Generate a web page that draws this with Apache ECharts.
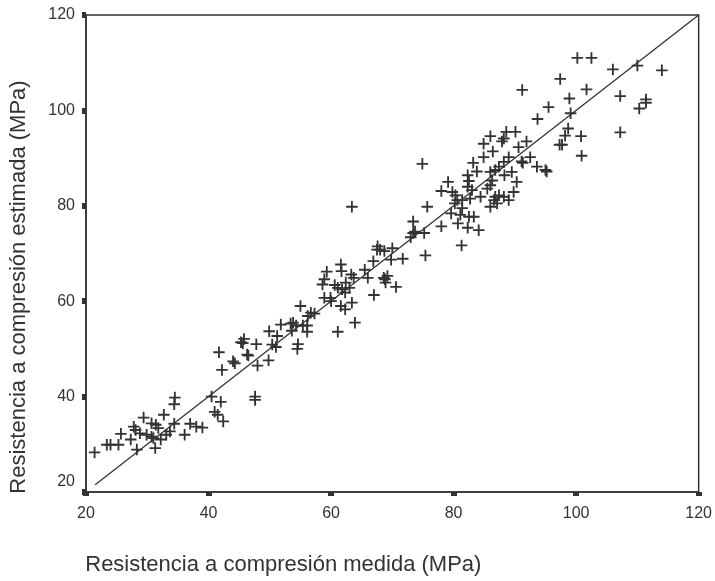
<!DOCTYPE html>
<html>
<head>
<meta charset="utf-8">
<script src="https://cdn.jsdelivr.net/npm/echarts@6/dist/echarts.min.js"></script>
<style>
html,body{margin:0;padding:0;background:#fff;}
#chart{width:715px;height:581px;}
</style>
</head>
<body>
<div id="chart"></div>
<script>
// Measured compressive strength (MPa) - x values
const measured = [
21.4,23.4,24.0,25.3,25.7,27.3,27.8,28.1,28.3,28.8,29.4,29.9,30.7,30.7,31.4,31.0,31.3,31.8,32.2,32.7,
33.1,33.7,34.4,34.5,34.4,36.1,37.0,38.0,39.0,40.5,41.0,42.0,41.5,42.4,47.6,47.6,41.7,42.2,44.0,44.3,
45.3,45.8,45.6,46.3,46.5,47.8,48.0,49.8,49.9,50.4,51.0,51.2,51.8,53.4,53.8,54.3,55.4,53.6,54.6,54.5,
55.0,56.1,56.2,56.7,57.3,56.1,58.9,58.6,59.3,58.9,59.9,60.0,61.1,61.6,61.7,60.6,61.1,61.8,62.4,63.3,
63.7,61.6,62.3,63.4,62.3,63.0,63.9,65.5,66.0,66.9,67.0,67.5,68.0,68.7,67.6,68.6,68.8,69.2,68.9,70.6,
70.0,71.7,69.8,63.4,73.4,73.4,73.7,73.0,75.2,75.4,75.7,74.9,78.0,79.6,80.7,81.3,82.3,84.1,82.5,83.3,
81.1,81.4,80.2,80.6,81.4,82.7,80.3,79.8,78.0,79.1,83.0,82.3,82.5,82.3,83.8,83.2,84.9,86.4,84.9,86.0,
87.9,88.2,88.6,90.1,84.4,85.5,86.0,86.8,86.6,86.0,87.4,88.2,89.0,87.1,86.0,86.8,87.4,88.2,88.3,89.0,
86.3,89.5,90.3,89.8,90.6,91.9,91.1,91.3,92.5,93.6,95.0,95.2,91.2,93.7,97.3,97.7,100.2,102.5,97.4,106.0,
110.0,114.0,101.7,98.9,95.5,107.2,99.1,111.4,111.4,110.3,98.7,98.2,100.8,107.2,100.9
];
// Estimated compressive strength (MPa) - y values
const estimated = [
28.3,29.9,29.9,29.9,32.2,31.0,33.7,33.0,28.9,32.3,35.6,32.0,34.4,31.6,34.1,31.3,29.2,33.4,31.0,36.2,
32.0,32.7,34.3,39.8,38.4,32.0,34.3,33.7,33.5,40.0,36.8,38.9,36.2,34.8,40.0,39.3,49.3,45.6,47.4,47.0,
51.4,52.1,51.2,48.8,48.6,51.0,46.5,47.6,53.7,50.9,50.4,52.7,55.1,55.3,55.5,54.9,54.9,53.8,51.0,50.0,
59.0,54.9,56.9,57.6,57.4,53.6,60.7,63.5,66.2,64.6,60.7,60.0,53.6,67.7,66.3,63.4,62.8,62.5,63.9,65.6,
64.9,59.0,58.3,59.7,61.8,62.8,55.5,66.6,64.9,68.4,61.3,70.8,70.8,70.5,71.5,64.9,64.6,65.3,63.9,63.0,
71.1,68.9,68.7,79.8,76.7,74.3,74.6,73.4,74.3,69.6,79.8,88.8,75.7,78.4,76.3,71.7,75.4,74.9,77.7,77.7,
78.1,79.5,80.5,81.2,81.2,81.5,82.2,82.9,83.1,85.0,83.3,84.0,85.2,86.4,87.2,89.0,90.2,91.4,93.0,94.6,
93.5,94.1,95.5,95.5,81.9,83.6,84.3,81.9,81.2,79.8,82.2,81.9,81.2,80.5,87.1,87.5,88.2,89.2,86.4,90.2,
85.3,87.1,85.0,82.9,92.3,93.5,89.3,89.0,90.2,88.2,87.5,87.2,104.3,98.2,92.8,92.8,111.0,111.0,106.6,108.6,
109.4,108.4,104.4,102.5,100.7,103.0,99.4,102.3,101.6,100.4,96.2,94.7,94.6,95.4,90.5
];
// Reference line (estimated = measured) end points
const lineRange = [21.5, 120];
// Axis ticks
const xTicks = [20, 40, 60, 80, 100, 120];
const yTicks = [20, 40, 60, 80, 100, 120];

const FONT = '"Liberation Sans", Arial, sans-serif';
const INK = '#333333';
const points = measured.map((x, i) => [x, estimated[i]]);
const refLine = lineRange.map(v => [v, v]);
const plus = 'path://M4.2,0H5.8V4.2H10V5.8H5.8V10H4.2V5.8H0V4.2H4.2Z';

const chart = echarts.init(document.getElementById('chart'), null, {renderer: 'canvas'});
chart.setOption({
  animation: false,
  backgroundColor: '#ffffff',
  grid: {
    left: 84, right: 14, top: 15, bottom: 85,
    containLabel: false,
    show: true, borderColor: INK, borderWidth: 1.5, backgroundColor: 'transparent'
  },
  xAxis: {
    type: 'value',
    min: xTicks[0], max: xTicks[xTicks.length - 1], interval: xTicks[1] - xTicks[0],
    name: 'Resistencia a compresión medida (MPa)',
    nameLocation: 'middle', nameGap: 62,
    nameTextStyle: {fontFamily: FONT, fontSize: 22, color: INK, padding: [0, 218, 0, 0]},
    axisLine: {show: true, lineStyle: {color: INK, width: 1.5}},
    axisTick: {show: true, inside: false, length: 4, lineStyle: {color: INK, width: 6}},
    axisLabel: {fontFamily: FONT, fontSize: 16, color: INK, margin: 14},
    splitLine: {show: false}
  },
  yAxis: {
    type: 'value',
    min: yTicks[0], max: yTicks[yTicks.length - 1], interval: yTicks[1] - yTicks[0],
    name: 'Resistencia a compresión estimada (MPa)',
    nameLocation: 'middle', nameGap: 56,
    nameTextStyle: {fontFamily: FONT, fontSize: 22, color: INK, padding: [0, 67, 0, 0]},
    axisLine: {show: true, lineStyle: {color: INK, width: 1.5}},
    axisTick: {show: true, inside: false, length: 4, lineStyle: {color: INK, width: 6}},
    axisLabel: {
      fontFamily: FONT, fontSize: 16, color: INK, margin: 11,
      formatter: v => v === yTicks[0] ? '{lo|' + v + '}' : String(v),
      rich: {lo: {fontFamily: FONT, fontSize: 16, color: INK, padding: [0, 0, 20, 0]}}
    },
    splitLine: {show: false}
  },
  series: [
    {
      type: 'line',
      data: refLine,
      symbol: 'none',
      lineStyle: {color: INK, width: 1.3},
      silent: true,
      z: 1
    },
    {
      type: 'scatter',
      data: points,
      symbol: plus,
      symbolSize: 11.5,
      itemStyle: {color: INK, opacity: 1},
      z: 2
    }
  ]
});
</script>
</body>
</html>
